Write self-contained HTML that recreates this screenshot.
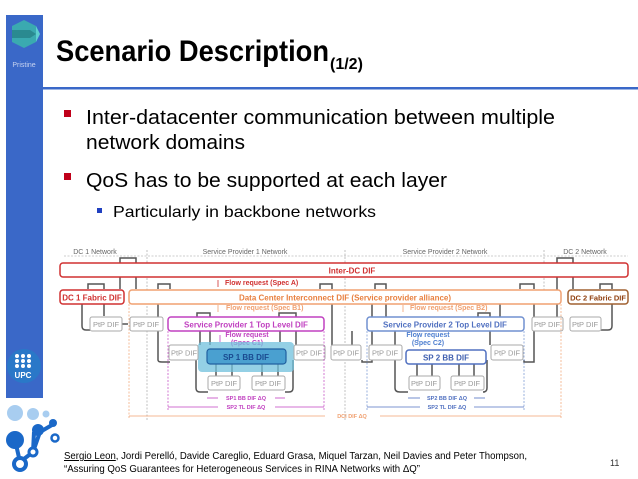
<!DOCTYPE html>
<html><head><meta charset="utf-8"><style>
html,body{margin:0;padding:0;background:#fff;width:638px;height:479px;overflow:hidden}
svg{display:block}
text{font-family:"Liberation Sans",sans-serif}
</style></head><body>
<svg width="638" height="479" viewBox="0 0 638 479" xmlns="http://www.w3.org/2000/svg">
<rect x="6" y="15" width="37" height="383" fill="#3a68c8"/>
<polygon points="24,20 36,26 36,42 24,48 12,42 12,26" fill="#3aaab0"/>
<polygon points="12,30 30,30 36,34 30,38 12,38" fill="#2a8a90"/>
<polygon points="36,26 40,34 36,42" fill="#5fd0d0"/>
<text x="24" y="67" font-size="7" fill="#c8d4f0" text-anchor="middle">Pristine</text>
<circle cx="24" cy="366" r="17" fill="#2a78c8"/>
<g fill="#fff"><circle cx="17" cy="356" r="2"/><circle cx="23" cy="356" r="2"/><circle cx="29" cy="356" r="2"/><circle cx="17" cy="361" r="2"/><circle cx="23" cy="361" r="2"/><circle cx="29" cy="361" r="2"/><circle cx="17" cy="366" r="2"/><circle cx="23" cy="366" r="2"/><circle cx="29" cy="366" r="2"/></g>
<text x="23" y="378" font-size="8" font-weight="bold" fill="#fff" text-anchor="middle">UPC</text>
<circle cx="15" cy="413" r="8" fill="#a8cdf0"/><circle cx="33" cy="414" r="6" fill="#a8cdf0"/><circle cx="46" cy="414" r="3.5" fill="#a8cdf0"/>
<g stroke="#1a68c8" stroke-width="4" fill="none"><path d="M15,440 L20,462 L33,452 L40,432 L52,425"/><path d="M33,452 L34,432"/></g>
<circle cx="15" cy="440" r="9" fill="#1a68c8"/><circle cx="38" cy="430" r="6" fill="#1a68c8"/><circle cx="53" cy="423" r="4" fill="#1a68c8"/>
<circle cx="20" cy="464" r="6" fill="#fff" stroke="#1a68c8" stroke-width="4"/><circle cx="33" cy="452" r="4" fill="#fff" stroke="#1a68c8" stroke-width="3"/><circle cx="55" cy="438" r="3.5" fill="#fff" stroke="#1a68c8" stroke-width="2.5"/>
<text x="56" y="61" font-size="30" font-weight="bold" fill="#000" textLength="273" lengthAdjust="spacingAndGlyphs">Scenario Description</text>
<text x="330" y="69" font-size="16" font-weight="bold" fill="#000">(1/2)</text>
<rect x="43" y="87" width="595" height="2.5" fill="#3a68c8"/>
<rect x="64" y="110" width="7" height="7" fill="#c0001a"/>
<g font-size="20" fill="#000">
<text x="86" y="124" textLength="469" lengthAdjust="spacingAndGlyphs">Inter-datacenter communication between multiple</text>
<text x="86" y="149" textLength="159" lengthAdjust="spacingAndGlyphs">network domains</text>
<text x="86" y="187" textLength="361" lengthAdjust="spacingAndGlyphs">QoS has to be supported at each layer</text>
</g>
<rect x="64" y="173" width="7" height="7" fill="#c0001a"/>
<rect x="97" y="208" width="5" height="5" fill="#2040c0"/>
<text x="113" y="217" font-size="16" fill="#000" textLength="263" lengthAdjust="spacingAndGlyphs">Particularly in backbone networks</text>

<g font-size="7" fill="#666">
<text x="95" y="254" text-anchor="middle">DC 1 Network</text>
<text x="245" y="254" text-anchor="middle">Service Provider 1 Network</text>
<text x="445" y="254" text-anchor="middle">Service Provider 2 Network</text>
<text x="585" y="254" text-anchor="middle">DC 2 Network</text>
</g>
<g stroke="#999" stroke-width="0.6" stroke-dasharray="2,1.5">
<line x1="64" y1="256" x2="628" y2="256"/>
<line x1="147" y1="250" x2="147" y2="420"/><line x1="345" y1="250" x2="345" y2="420"/><line x1="544" y1="250" x2="544" y2="300"/>
</g>
<g stroke="#555" stroke-width="1.5" fill="none">
<path d="M82,304 V326 Q82,330 86,330 H90 M88,289 V284 H104 V289 M104,304 V316"/>
<path d="M120,263 V258 H136 V263 M136,277 V289 M122,324 H128 M120,277 V289"/>
<path d="M158,304 V360 Q158,362 162,362 H170 M158,289 V284 H170 V289"/>
<path d="M197,317 V313 H210 V317 M210,331 V345 M200,345 V330"/>
<path d="M279,317 V313 H296 V317 M296,331 V345 M280,331 V342"/>
<path d="M196,360 V388 Q196,392 200,392 H208 M293,360 V388 Q293,392 289,392 H285"/>
<path d="M320,289 V284 H332 V289 M332,304 V345 M362,360 V362 H372 V304"/>
<path d="M375,289 V284 H386 V289 M386,304 V317 M352,345 V331"/>
<path d="M395,331 V345 M395,360 V388 Q395,392 400,392 H408 M487,360 V388 Q487,392 483,392 H485"/>
<path d="M478,317 V313 H490 V317 M490,331 V345 M500,304 V317"/>
<path d="M520,289 V284 H534 V289 M534,304 V317 M524,360 V362 H534 V331"/>
<path d="M557,263 V258 H573 V263 M573,277 V289 M557,277 V317 M600,289 V284 H612 V289 M612,304 V326 Q612,330 608,330 H601"/>
<path d="M216,364 V376 M232,364 V376 M262,364 V376 M278,364 V376 M417,364 V376 M432,364 V376 M459,364 V376 M474,364 V376"/>
</g>
<rect x="60" y="263" width="568" height="14" rx="3" fill="#fff" stroke="#d03030" stroke-width="1.5"/>
<text x="352" y="273.5" font-size="8" font-weight="bold" fill="#d03030" text-anchor="middle">Inter-DC DIF</text>
<rect x="60" y="290" width="64" height="14" rx="3" fill="#fff" stroke="#d03030" stroke-width="1.5"/>
<text x="92" y="300.5" font-size="8" font-weight="bold" fill="#d03030" text-anchor="middle">DC 1 Fabric DIF</text>
<rect x="129" y="290" width="432" height="14" rx="3" fill="#fff" stroke="#f0a070" stroke-width="1.5"/>
<text x="345" y="300.5" font-size="8" font-weight="bold" fill="#e88040" text-anchor="middle">Data Center Interconnect DIF (Service provider alliance)</text>
<rect x="568" y="290" width="60" height="14" rx="3" fill="#fff" stroke="#a06030" stroke-width="1.5"/>
<text x="598" y="300.5" font-size="7.5" font-weight="bold" fill="#904010" text-anchor="middle">DC 2 Fabric DIF</text>
<g font-size="7" font-weight="bold">
<text x="225" y="285" fill="#d03030">Flow request (Spec A)</text>
<text x="226" y="310" fill="#f0a070">Flow request (Spec B1)</text>
<text x="410" y="310" fill="#f0a070">Flow request (Spec B2)</text>
<text x="247" y="337" fill="#c040c0" text-anchor="middle">Flow request</text>
<text x="247" y="345" fill="#c040c0" text-anchor="middle">(Spec C1)</text>
<text x="428" y="337" fill="#5080d0" text-anchor="middle">Flow request</text>
<text x="428" y="345" fill="#5080d0" text-anchor="middle">(Spec C2)</text>
</g>
<g stroke-width="0.8"><line x1="218" y1="280" x2="218" y2="287" stroke="#d03030"/><line x1="218" y1="305" x2="218" y2="312" stroke="#f0a070"/><line x1="220" y1="335" x2="220" y2="342" stroke="#c040c0"/><line x1="403" y1="305" x2="403" y2="312" stroke="#f0a070"/><line x1="418" y1="335" x2="418" y2="342" stroke="#5080d0"/></g>
<rect x="168" y="317" width="156" height="14" rx="3" fill="#fff" stroke="#c040c0" stroke-width="1.5"/>
<text x="246" y="327.5" font-size="8" font-weight="bold" fill="#c040c0" text-anchor="middle">Service Provider 1 Top Level DIF</text>
<rect x="367" y="317" width="157" height="14" rx="3" fill="#fff" stroke="#7090d0" stroke-width="1.5"/>
<text x="445" y="327.5" font-size="8" font-weight="bold" fill="#5070c0" text-anchor="middle">Service Provider 2 Top Level DIF</text>
<rect x="198" y="342" width="96" height="30" rx="4" fill="#70c0dc" opacity="0.75"/>
<rect x="207" y="349" width="79" height="15" rx="3" fill="#4aa0d0" stroke="#2060a0" stroke-width="1.2"/>
<text x="246" y="360" font-size="8" font-weight="bold" fill="#1a4a90" text-anchor="middle">SP 1 BB DIF</text>
<rect x="406" y="350" width="80" height="14" rx="3" fill="#fff" stroke="#5070c0" stroke-width="1.5"/>
<text x="446" y="360.5" font-size="8" font-weight="bold" fill="#4060b0" text-anchor="middle">SP 2 BB DIF</text>
<g fill="#fff" stroke="#aaa" stroke-width="1">
<rect x="90" y="317" width="32" height="14" rx="2"/><rect x="130" y="317" width="33" height="14" rx="2"/>
<rect x="532" y="317" width="31" height="14" rx="2"/><rect x="570" y="317" width="31" height="14" rx="2"/>
<rect x="169" y="345" width="29" height="15" rx="2"/><rect x="294" y="345" width="31" height="15" rx="2"/><rect x="331" y="345" width="30" height="15" rx="2"/>
<rect x="369" y="345" width="33" height="15" rx="2"/><rect x="491" y="345" width="32" height="15" rx="2"/>
<rect x="208" y="376" width="32" height="14" rx="2"/><rect x="252" y="376" width="33" height="14" rx="2"/>
<rect x="409" y="376" width="31" height="14" rx="2"/><rect x="451" y="376" width="33" height="14" rx="2"/>
</g>
<g font-size="7.5" fill="#999" text-anchor="middle">
<text x="106" y="327">PtP DIF</text><text x="146" y="327">PtP DIF</text><text x="547" y="327">PtP DIF</text><text x="585" y="327">PtP DIF</text>
<text x="184" y="355.5">PtP DIF</text><text x="309" y="355.5">PtP DIF</text><text x="346" y="355.5">PtP DIF</text><text x="385" y="355.5">PtP DIF</text><text x="507" y="355.5">PtP DIF</text>
<text x="224" y="386">PtP DIF</text><text x="268" y="386">PtP DIF</text><text x="424" y="386">PtP DIF</text><text x="467" y="386">PtP DIF</text>
</g>
<g stroke-width="0.7" stroke-dasharray="2,1.5" fill="none">
<path d="M168,331 V410 M324,331 V410" stroke="#c040c0"/>
<path d="M367,331 V410 M524,331 V410" stroke="#7090d0"/>
<path d="M129,304 V418 M561,304 V418" stroke="#f0a070"/>
</g>
<g stroke-width="0.8">
<line x1="207" y1="398" x2="218" y2="398" stroke="#c040c0"/><line x1="275" y1="398" x2="285" y2="398" stroke="#c040c0"/>
<line x1="168" y1="407" x2="218" y2="407" stroke="#c040c0"/><line x1="275" y1="407" x2="324" y2="407" stroke="#c040c0"/>
<line x1="408" y1="398" x2="420" y2="398" stroke="#5070c0"/><line x1="474" y1="398" x2="485" y2="398" stroke="#5070c0"/>
<line x1="367" y1="407" x2="420" y2="407" stroke="#5070c0"/><line x1="474" y1="407" x2="524" y2="407" stroke="#5070c0"/>
<line x1="129" y1="416" x2="325" y2="416" stroke="#f0a070"/><line x1="380" y1="416" x2="561" y2="416" stroke="#f0a070"/>
</g>
<g font-size="5.5" font-weight="bold" text-anchor="middle">
<text x="246" y="400" fill="#c040c0">SP1 BB DIF ΔQ</text><text x="246" y="409" fill="#c040c0">SP2 TL DIF ΔQ</text>
<text x="447" y="400" fill="#5070c0">SP2 BB DIF ΔQ</text><text x="447" y="409" fill="#5070c0">SP2 TL DIF ΔQ</text>
<text x="352" y="418" fill="#f0a070">DCI DIF ΔQ</text>
</g>
<text x="64" y="459" font-size="10" fill="#000" textLength="463" lengthAdjust="spacingAndGlyphs"><tspan text-decoration="underline">Sergio Leon</tspan>, Jordi Perelló, Davide Careglio, Eduard Grasa, Miquel Tarzan, Neil Davies and Peter Thompson,</text>
<text x="64" y="472" font-size="10" fill="#000" textLength="356" lengthAdjust="spacingAndGlyphs">“Assuring QoS Guarantees for Heterogeneous Services in RINA Networks with ΔQ”</text>
<text x="610" y="466" font-size="9" fill="#333">11</text>
</svg>
</body></html>
